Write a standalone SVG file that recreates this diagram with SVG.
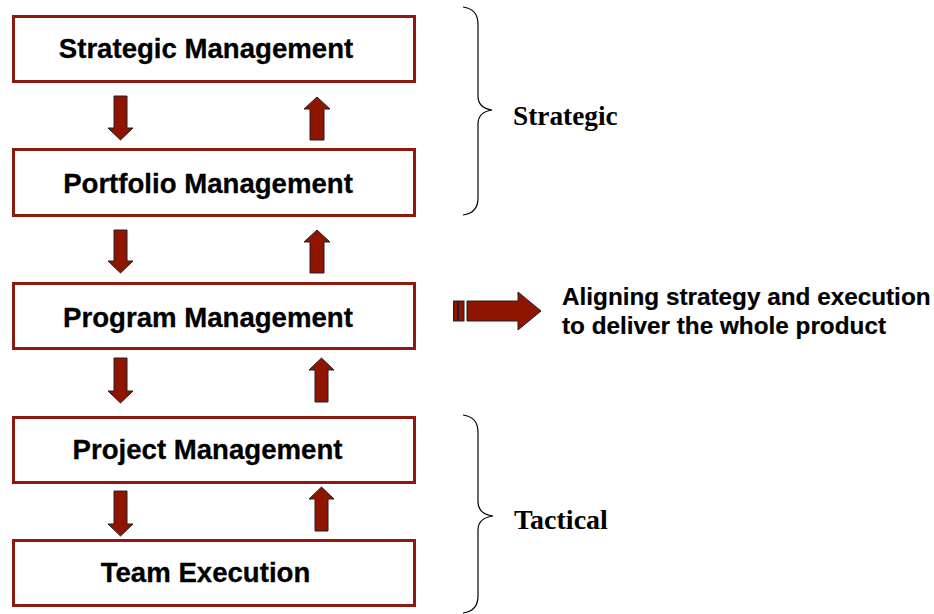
<svg xmlns="http://www.w3.org/2000/svg" width="934" height="614" viewBox="0 0 934 614">
<style>
.box{fill:#fff;stroke:#8d1a0c;stroke-width:3}
.lbl{font-family:"Liberation Sans",Arial,sans-serif;font-weight:bold;font-size:27.6px;fill:#000;text-anchor:middle;stroke:#000;stroke-width:0.3}
.arr{fill:#8f1500;stroke:#222;stroke-width:1}
.brace{fill:none;stroke:#000;stroke-width:1.2}
.side{font-family:"Liberation Serif","Times New Roman",serif;font-weight:bold;fill:#000}
.note{font-family:"Liberation Sans",Arial,sans-serif;font-weight:bold;font-size:24.3px;fill:#000;stroke:#000;stroke-width:0.2}
</style>
<rect width="934" height="614" fill="#fff"/>
<g id="connectors">
  <path class="arr" d="M114,96 H127 V128 H133 L120.5,140 L108,128 H114 Z"/>
  <path class="arr" d="M114,230 H127 V261 H133 L120.5,273 L108,261 H114 Z"/>
  <path class="arr" d="M114,358 H127 V391 H133 L120.5,403 L108,391 H114 Z"/>
  <path class="arr" d="M114,491 H127 V524 H133 L120.5,536 L108,524 H114 Z"/>
  <path class="arr" d="M310,140 H324 V109 H330 L317,97 L304,109 H310 Z"/>
  <path class="arr" d="M310,273 H324 V242 H330 L317,230 L304,242 H310 Z"/>
  <path class="arr" d="M315,402 H328 V370 H334 L321.5,358 L309,370 H315 Z"/>
  <path class="arr" d="M315,531 H328 V499 H334 L321.5,487 L309,499 H315 Z"/>
</g>
<g id="n1"><rect class="box" x="13.5" y="16.5" width="401" height="65"/><text class="lbl" x="206" y="58">Strategic Management</text></g>
<g id="n2"><rect class="box" x="13.5" y="149.5" width="401" height="66"/><text class="lbl" x="208" y="193">Portfolio Management</text></g>
<g id="n3"><rect class="box" x="13.5" y="283.5" width="401" height="65"/><text class="lbl" x="208" y="327">Program Management</text></g>
<g id="n4"><rect class="box" x="13.5" y="417.5" width="401" height="65"/><text class="lbl" x="207.5" y="459">Project Management</text></g>
<g id="n5"><rect class="box" x="13.5" y="540.5" width="401" height="65"/><text class="lbl" x="205.5" y="582">Team Execution</text></g>
<g id="strategic">
  <path class="brace" d="M463,7 Q478,9 478,24 V96 Q478,108 492,110 Q478,112 478,124 V198 Q478,213 463,215"/>
  <text class="side" x="513" y="125" font-size="27.3">Strategic</text>
</g>
<g id="tactical">
  <path class="brace" d="M463,415 Q478,417 478,432 V502 Q478,514 493,516 Q478,518 478,530 V596 Q478,611 463,613"/>
  <text class="side" x="514" y="529" font-size="28">Tactical</text>
</g>
<g id="aligning">
  <rect class="arr" x="453.5" y="301" width="4" height="20"/>
  <rect class="arr" x="458.5" y="301" width="5.5" height="20"/>
  <path class="arr" d="M467,301 H518 V292 L541,311 L518,330 V321 H467 Z"/>
  <text class="note" x="562" y="305">Aligning strategy and execution</text>
  <text class="note" x="562" y="334">to deliver the whole product</text>
</g>
</svg>
